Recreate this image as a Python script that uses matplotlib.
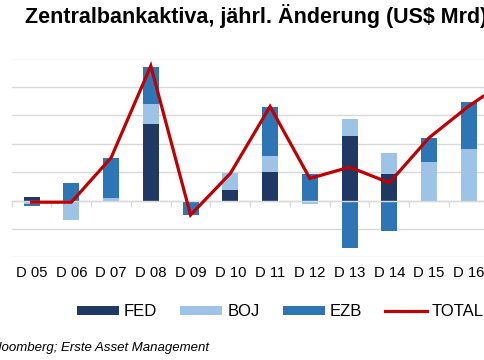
import matplotlib
matplotlib.use("Agg")
import matplotlib.pyplot as plt
import numpy as np

plt.rcParams['font.family'] = ['Liberation Sans', 'DejaVu Sans']

categories = ["D 05", "D 06", "D 07", "D 08", "D 09", "D 10", "D 11",
              "D 12", "D 13", "D 14", "D 15", "D 16", "D 17"]
fed = [65, 0, 0, 1353, 0, 182, 506, -20, 1129, 470, 0, -25, -10]
boj = [-70, -347, 47, 352, -10, 294, 275, -50, 300, 371, 682, 900, 450]
ezb = [-20, 312, 705, 653, -245, 0, 871, 458, -841, -529, 423, 834, 1700]
total = [-30, -30, 752, 2370, -255, 476, 1655, 388, 588, 312, 1105, 1663, 2135]

colors = {"FED": "#1F3864", "BOJ": "#9DC3E6", "EZB": "#2E75B6", "TOTAL": "#C00000"}

W, H = 485, 360
fig = plt.figure(figsize=(W / 100, H / 100), dpi=100)

ax_left = 11.7 / W
ax_w = 13 * 39.75 / W
ax_bottom = 1 - 257.3 / H
ax_top = 1 - 58.5 / H
ax = fig.add_axes([ax_left, ax_bottom, ax_w, ax_top - ax_bottom])

x = np.arange(len(categories))
pos_base = np.zeros(len(categories))
neg_base = np.zeros(len(categories))
handles = []
for name, vals in [("FED", fed), ("BOJ", boj), ("EZB", ezb)]:
    v = np.array(vals, dtype=float)
    bottoms = np.where(v >= 0, pos_base, neg_base)
    bc = ax.bar(x, v, width=0.40, bottom=bottoms, color=colors[name],
                label=name, zorder=2, linewidth=0)
    handles.append(bc)
    pos_base = pos_base + np.where(v > 0, v, 0)
    neg_base = neg_base + np.where(v < 0, v, 0)

ln, = ax.plot(x, total, color=colors["TOTAL"], linewidth=2.3, zorder=3,
              label="TOTAL", solid_joinstyle="miter")
handles.append(ln)

ax.set_xlim(-0.5, len(categories) - 0.5)
ax.set_ylim(-1000, 2500)
ax.set_yticks(np.arange(-1000, 2501, 500))
ax.yaxis.grid(True, color="#D9D9D9", linewidth=1.0, zorder=0)
ax.set_axisbelow(True)
ax.tick_params(axis="y", left=False, labelleft=False)
for s in ["top", "right", "left"]:
    ax.spines[s].set_visible(False)
ax.spines["bottom"].set_position(("data", 0))
ax.spines["bottom"].set_color("#D9D9D9")
ax.spines["bottom"].set_linewidth(1.0)
ax.set_xticks(np.arange(-0.5, len(categories), 1.0))
ax.tick_params(axis="x", direction="out", length=4, color="#D9D9D9",
               width=1.0, labelbottom=False)

sec = ax.secondary_xaxis(0.0)
sec.set_xticks(x)
sec.set_xticklabels(categories)
sec.tick_params(axis="x", length=0, pad=6, labelsize=10.7, labelcolor="#000000")
sec.spines["bottom"].set_visible(False)

fig.text(25 / W, 1 - 15.5 / H, "Zentralbankaktiva, jährl. Änderung (US$ Mrd)",
         fontsize=15.5, fontweight="bold", ha="left", va="center")

fig.legend(handles=handles, labels=["FED", "BOJ", "EZB", "TOTAL"],
           loc="center left", bbox_to_anchor=(77 / W, 1 - 311.7 / H),
           ncol=4, frameon=False, fontsize=12, handlelength=2.52,
           handleheight=0.48, handletextpad=0.3, columnspacing=1.38,
           borderpad=0, borderaxespad=0)

fig.text(209.5 / W, 1 - 347.5 / H, "Quelle: Bloomberg; Erste Asset Management",
         fontsize=9.5, fontstyle="italic", ha="right", va="center")

fig.savefig("out.png", dpi=100)
